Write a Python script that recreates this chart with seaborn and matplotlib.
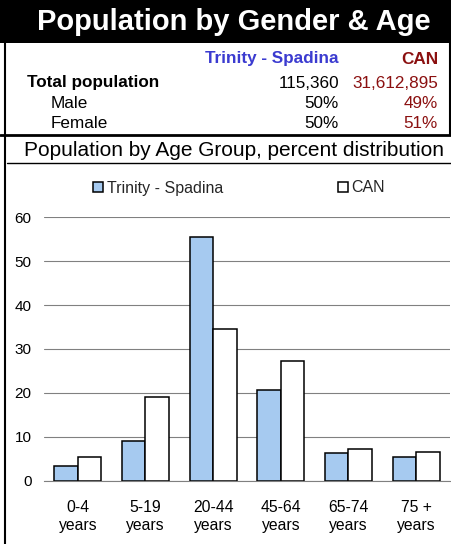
import matplotlib.pyplot as plt
import pandas as pd
import seaborn as sns
from matplotlib.lines import Line2D
from matplotlib.patches import Rectangle


# Dane
age_groups = ["0-4\nyears", "5-19\nyears", "20-44\nyears", "45-64\nyears", "65-74\nyears", "75 +\nyears"]
trinity_pct = [3.4, 9.0, 55.4, 20.7, 6.2, 5.3]
can_pct = [5.3, 19.1, 34.6, 27.3, 7.2, 6.5]
areas = ["Trinity - Spadina", "CAN"]

summary_labels = ["Total population", "Male", "Female"]
trinity_summary = ["115,360", "50%", "50%"]
can_summary = ["31,612,895", "49%", "51%"]

BLUE_FILL = "#A6CAF0"
HEAD_BLUE = "#3B3BD0"
DARK_RED = "#8B1010"

df = pd.DataFrame(
    {
        "age": age_groups * 2,
        "pct": trinity_pct + can_pct,
        "area": [areas[0]] * len(age_groups) + [areas[1]] * len(age_groups),
    }
)

sns.set_theme(style="white")
plt.rcParams["font.family"] = ["Liberation Sans", "DejaVu Sans"]

W, H = 452, 544
fig = plt.figure(figsize=(W / 100, H / 100), dpi=100)


def fx(px):
    return px / W


def fy(py):
    return 1 - py / H


# Naglowek z czarnym tlem
fig.patches.append(Rectangle((0, fy(42.5)), 1, 42.5 / H, transform=fig.transFigure,
                             facecolor="black", edgecolor="none", zorder=0))
fig.text(fx(234), fy(22), "Population by Gender & Age", color="white", fontsize=21,
         fontweight="bold", ha="center", va="center")

# Ramki
fig.add_artist(Line2D([fx(5), fx(5)], [fy(42), 0], transform=fig.transFigure, color="black", lw=1.5))
fig.add_artist(Line2D([fx(450.5), fx(450.5)], [fy(42), fy(135)], transform=fig.transFigure, color="black", lw=1.5))
fig.add_artist(Line2D([0, 1], [fy(135), fy(135)], transform=fig.transFigure, color="black", lw=2))
fig.add_artist(Line2D([fx(7), 1], [fy(163), fy(163)], transform=fig.transFigure, color="black", lw=1))

# Tabela podsumowania
fig.text(fx(339), fy(59), areas[0], color=HEAD_BLUE, fontsize=12.3, fontweight="bold", ha="right", va="center")
fig.text(fx(438), fy(59), "CAN", color=DARK_RED, fontsize=12.3, fontweight="bold", ha="right", va="center")
row_y = [83, 104, 123]
for i, label in enumerate(summary_labels):
    bold = "bold" if i == 0 else "normal"
    x_label = 27 if i == 0 else 51
    fig.text(fx(x_label), fy(row_y[i]), label, fontsize=12.3, fontweight=bold, ha="left", va="center", color="black")
    fig.text(fx(339), fy(row_y[i]), trinity_summary[i], fontsize=12.3, ha="right", va="center", color="black")
    fig.text(fx(438), fy(row_y[i]), can_summary[i], fontsize=12.3, ha="right", va="center", color=DARK_RED)

fig.text(fx(234), fy(151), "Population by Age Group, percent distribution", fontsize=15,
         ha="center", va="center", color="black")

# Wykres slupkowy
ax = fig.add_axes([fx(44), fy(480.7), fx(450) - fx(44), 263.4 / H])
sns.barplot(data=df, x="age", y="pct", hue="area", palette=[BLUE_FILL, "white"],
            edgecolor="black", linewidth=1.1, width=0.69, saturation=1, ax=ax)

ax.set_ylim(0, 60)
ax.set_xlim(-0.5, len(age_groups) - 0.5)
ax.set_yticks(range(0, 61, 10))
ax.yaxis.grid(True, color="#808080", lw=0.8)
ax.set_axisbelow(True)
for side in ["left", "right", "top"]:
    ax.spines[side].set_visible(False)
ax.spines["bottom"].set_color("#808080")
ax.spines["bottom"].set_linewidth(0.8)
ax.tick_params(axis="y", labelsize=11, pad=9, length=0, colors="black")
ax.tick_params(axis="x", labelsize=11.3, pad=14, length=0, colors="black")
ax.set_xlabel("")
ax.set_ylabel("")

handles, labels = ax.get_legend_handles_labels()
ax.legend(handles, labels, loc="center", bbox_to_anchor=(0.48, (fy(188) - fy(480.7)) / (263.4 / H)),
          ncol=2, frameon=False, fontsize=11.5, handlelength=0.65, handleheight=0.65,
          handletextpad=0.2, columnspacing=7.2)

plt.savefig("out.png", dpi=100)
plt.close()
